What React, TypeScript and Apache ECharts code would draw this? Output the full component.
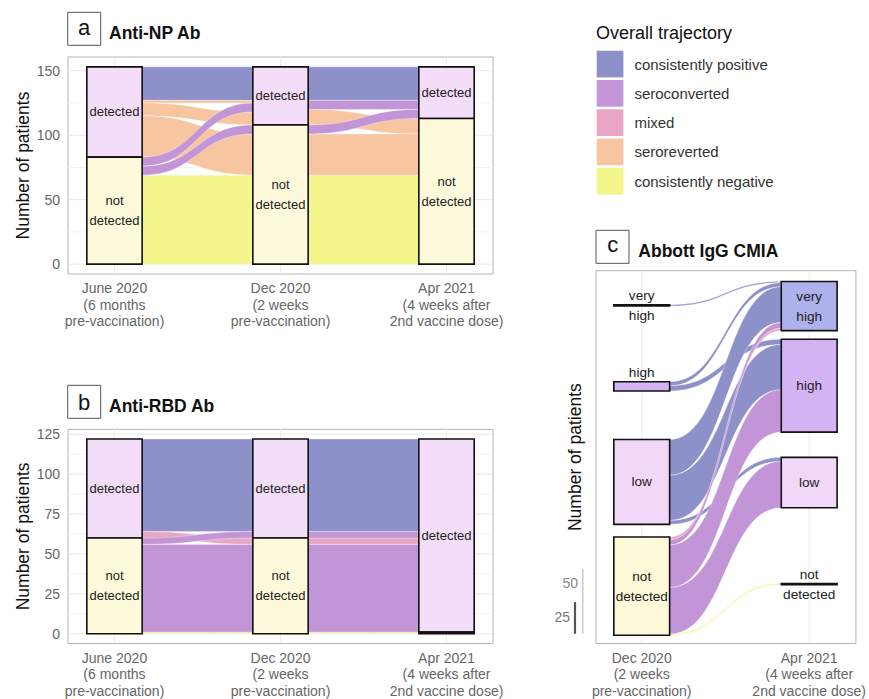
import React, { useEffect, useRef } from "react";
import * as echarts from "echarts";

const FONT = '"Liberation Sans", Arial, Helvetica, sans-serif';

// ---------- categories / trajectories ----------
const trajectories = [
  "consistently positive",
  "seroconverted",
  "mixed",
  "seroreverted",
  "consistently negative",
];
const trajectoryColors = ["#8e91c9", "#c295d7", "#e9a5c6", "#f7c6a1", "#f2f68b"];
const drawOrder = [0, 4, 3, 2, 1];

const threeTimes = [
  "June 2020\n(6 months\npre-vaccination)",
  "Dec 2020\n(2 weeks\npre-vaccination)",
  "Apr 2021\n(4 weeks after\n2nd vaccine dose)",
];
const twoTimes = [
  "Dec 2020\n(2 weeks\npre-vaccination)",
  "Apr 2021\n(4 weeks after\n2nd vaccine dose)",
];

// ---------- tick labels ----------
const npTicks = [0, 50, 100, 150];
const npMinorTicks = [25, 75, 125];
const rbdTicks = [0, 25, 50, 75, 100, 125];
const rbdMinorTicks = [12.5, 37.5, 62.5, 87.5, 112.5];

// ---------- panel a: Anti-NP Ab ----------
const detectionLabels = ["detected", "not\ndetected"];
// per time point: [detected, not detected]
const npCounts = [
  [70, 83],
  [45, 108],
  [40, 113],
];
// flows: [fromStratum, toStratum, patients, trajectory] in left-side order
const npFlowsJuneDec = [
  [0, 0, 26, 0],
  [0, 0, 2, 3],
  [0, 0, 10, 3],
  [0, 1, 32, 3],
  [1, 0, 7, 1],
  [1, 1, 7, 1],
  [1, 1, 69, 4],
];
const npOrderJuneDec = [0, 1, 4, 2, 5, 3, 6];
const npFlowsDecApr = [
  [0, 0, 26, 0],
  [0, 0, 7, 1],
  [0, 1, 12, 3],
  [1, 0, 7, 1],
  [1, 1, 32, 3],
  [1, 1, 69, 4],
];
const npOrderDecApr = [0, 1, 3, 2, 4, 5];

// ---------- panel b: Anti-RBD Ab ----------
const rbdCounts = [
  [62, 60],
  [62, 60],
  [121, 1],
];
const rbdFlowsJuneDec = [
  [0, 0, 58, 0],
  [0, 1, 4, 2],
  [1, 0, 4, 1],
  [1, 1, 55, 1],
  [1, 1, 1, 4],
];
const rbdOrderJuneDec = [0, 2, 1, 3, 4];
const rbdFlowsDecApr = [
  [0, 0, 58, 0],
  [0, 0, 4, 1],
  [1, 0, 4, 2],
  [1, 0, 55, 1],
  [1, 1, 1, 4],
];
const rbdOrderDecApr = [0, 1, 2, 3, 4];

// ---------- panel c: Abbott IgG CMIA ----------
const abbottLabels = ["very\nhigh", "high", "low", "not\ndetected"];
const abbottCounts = [
  [1, 7, 64, 74],
  [37, 70, 38, 1],
];
// stratum bottoms (patients) of the spaced-out layout
const abbottBottoms = [
  [248, 184, 83.5, 0],
  [229.5, 153, 96, 38],
];
const abbottFlows = [
  [0, 0, 1, 0],
  [1, 0, 3, 0],
  [1, 1, 4, 0],
  [2, 0, 27, 0],
  [2, 1, 34, 0],
  [2, 2, 3, 0],
  [3, 0, 2, 2],
  [3, 0, 4, 1],
  [3, 1, 32, 1],
  [3, 2, 35, 1],
  [3, 3, 1, 4],
];
const abbottOrder = [0, 1, 3, 7, 6, 2, 4, 8, 5, 9, 10];
const abbottScaleBars = [50, 25];

// ---------- styling ----------
const STRATUM_W = 1 / 3;
const detectionFills = ["#f3ddf9", "#fdfadc"];
const abbottFills = ["#aeb1ec", "#d3b3f4", "#f1d8f8", "#fdf9d9"];

type FlowItem = { value: number[]; traj: number };
type StratumItem = { value: number[]; label: string; fill: string; shift: number; size: number };

function stackBottoms(counts: number[]) {
  const b: number[] = [];
  let acc = 0;
  for (let i = counts.length - 1; i >= 0; i--) {
    b[i] = acc;
    acc += counts[i];
  }
  return b;
}

function layoutFlows(
  flows: number[][],
  rightOrder: number[],
  leftTops: number[],
  rightTops: number[],
  x0: number,
  x1: number
): FlowItem[] {
  const res = flows.map(() => [0, 0, 0, 0, 0, 0]);
  const lc = leftTops.slice();
  flows.forEach((f, i) => {
    const hi = lc[f[0]];
    const lo = hi - f[2];
    lc[f[0]] = lo;
    res[i][0] = x0 + STRATUM_W / 2;
    res[i][1] = x1 - STRATUM_W / 2;
    res[i][2] = lo;
    res[i][3] = hi;
  });
  const rc = rightTops.slice();
  rightOrder.forEach((i) => {
    const f = flows[i];
    const hi = rc[f[1]];
    const lo = hi - f[2];
    rc[f[1]] = lo;
    res[i][4] = lo;
    res[i][5] = hi;
  });
  return res.map((r, i) => ({ value: r, traj: flows[i][3] }));
}

function gridSeries(g: number, major: number[], minor: number[], vert: number[]) {
  const data = [
    ...major.map((v) => [v, 0]),
    ...minor.map((v) => [v, 1]),
    ...vert.map((v) => [v, 2]),
  ];
  return {
    type: "custom",
    xAxisIndex: g,
    yAxisIndex: g,
    z: 1,
    silent: true,
    data,
    renderItem: (params: any, api: any) => {
      const v = api.value(0);
      const kind = api.value(1);
      const cs = params.coordSys;
      if (kind === 2) {
        const p = api.coord([v, 0]);
        return {
          type: "line",
          shape: { x1: p[0], y1: cs.y, x2: p[0], y2: cs.y + cs.height },
          style: { stroke: "#ebebeb", lineWidth: 1 },
        };
      }
      const p = api.coord([1, v]);
      return {
        type: "line",
        shape: { x1: cs.x, y1: p[1], x2: cs.x + cs.width, y2: p[1] },
        style: { stroke: kind === 0 ? "#e8e8e8" : "#f4f4f4", lineWidth: 1 },
      };
    },
  };
}

function flowSeries(g: number, items: FlowItem[], traj: number) {
  const color = trajectoryColors[traj];
  return {
    type: "custom",
    name: trajectories[traj],
    xAxisIndex: g,
    yAxisIndex: g,
    z: 2,
    silent: true,
    itemStyle: { color },
    data: items.filter((d) => d.traj === traj).map((d) => d.value),
    renderItem: (_params: any, api: any) => {
      const lt = api.coord([api.value(0), api.value(3)]);
      const lb = api.coord([api.value(0), api.value(2)]);
      const rt = api.coord([api.value(1), api.value(5)]);
      const rb = api.coord([api.value(1), api.value(4)]);
      const xm = (lt[0] + rt[0]) / 2;
      const d =
        `M${lt[0]},${lt[1]} C${xm},${lt[1]} ${xm},${rt[1]} ${rt[0]},${rt[1]} ` +
        `L${rb[0]},${rb[1]} C${xm},${rb[1]} ${xm},${lb[1]} ${lb[0]},${lb[1]} Z`;
      return {
        type: "path",
        shape: { pathData: d },
        style: { fill: color, stroke: "rgba(255,255,255,0.55)", lineWidth: 0.6 },
      };
    },
  };
}

function strataSeries(g: number, items: StratumItem[]) {
  return {
    type: "custom",
    xAxisIndex: g,
    yAxisIndex: g,
    z: 3,
    silent: true,
    data: items.map((i) => i.value),
    renderItem: (params: any, api: any) => {
      const it = items[params.dataIndex];
      const x = api.value(0);
      const tl = api.coord([x - STRATUM_W / 2, api.value(2)]);
      const br = api.coord([x + STRATUM_W / 2, api.value(1)]);
      const cx = (tl[0] + br[0]) / 2;
      const cy = (tl[1] + br[1]) / 2 + it.shift;
      return {
        type: "group",
        children: [
          {
            type: "rect",
            shape: { x: tl[0], y: tl[1], width: br[0] - tl[0], height: br[1] - tl[1] },
            style: { fill: it.fill, stroke: "#111", lineWidth: 1.6 },
          },
          {
            type: "text",
            x: cx,
            y: cy,
            style: {
              text: it.label,
              fill: "#222",
              textFill: "#222",
              fontSize: it.size,
              fontFamily: FONT,
              align: "center",
              verticalAlign: "middle",
              textAlign: "center",
              textVerticalAlign: "middle",
              lineHeight: 20,
              textLineHeight: 20,
            },
          },
        ],
      };
    },
  };
}

function detectionStrata(counts: number[][], hidden: string[]) {
  const items: StratumItem[] = [];
  counts.forEach((c, t) => {
    const b = stackBottoms(c);
    c.forEach((n, s) => {
      const key = `${t}-${s}`;
      items.push({
        value: [t + 1, b[s], b[s] + n],
        label: hidden.includes(key) ? "" : detectionLabels[s],
        fill: detectionFills[s],
        shift: 0,
        size: 13,
      });
    });
  });
  return items;
}

function buildOption() {
  // panel a
  const npB = npCounts.map(stackBottoms);
  const npTops = npCounts.map((c, t) => c.map((n, s) => npB[t][s] + n));
  const npItems = [
    ...layoutFlows(npFlowsJuneDec, npOrderJuneDec, npTops[0], npTops[1], 1, 2),
    ...layoutFlows(npFlowsDecApr, npOrderDecApr, npTops[1], npTops[2], 2, 3),
  ];
  // panel b
  const rbB = rbdCounts.map(stackBottoms);
  const rbTops = rbdCounts.map((c, t) => c.map((n, s) => rbB[t][s] + n));
  const rbItems = [
    ...layoutFlows(rbdFlowsJuneDec, rbdOrderJuneDec, rbTops[0], rbTops[1], 1, 2),
    ...layoutFlows(rbdFlowsDecApr, rbdOrderDecApr, rbTops[1], rbTops[2], 2, 3),
  ];
  // panel c
  const abTops = abbottCounts.map((c, t) => c.map((n, s) => abbottBottoms[t][s] + n));
  const abItems = layoutFlows(abbottFlows, abbottOrder, abTops[0], abTops[1], 1, 2);
  const abStrata: StratumItem[] = [];
  abbottCounts.forEach((c, t) =>
    c.forEach((n, s) =>
      abStrata.push({
        value: [t + 1, abbottBottoms[t][s], abbottBottoms[t][s] + n],
        label: abbottLabels[s],
        fill: abbottFills[s],
        shift: t === 0 && s === 1 ? -14 : 0,
        size: 13.6,
      })
    )
  );

  const series: any[] = [
    gridSeries(0, npTicks, npMinorTicks, [1, 2, 3]),
    gridSeries(1, rbdTicks, rbdMinorTicks, [1, 2, 3]),
    gridSeries(2, [], [], [1, 2]),
  ];
  drawOrder.forEach((tr) => {
    series.push(flowSeries(0, npItems, tr));
    series.push(flowSeries(1, rbItems, tr));
    series.push(flowSeries(2, abItems, tr));
  });
  series.push(strataSeries(0, detectionStrata(npCounts, [])));
  series.push(strataSeries(1, detectionStrata(rbdCounts, ["2-1"])));
  series.push(strataSeries(2, abStrata));
  // scale bar of panel c
  series.push({
    type: "custom",
    xAxisIndex: 2,
    yAxisIndex: 2,
    z: 3,
    silent: true,
    clip: false,
    data: [[1, 0]],
    renderItem: (params: any, api: any) => {
      const cs = params.coordSys;
      const base = api.coord([1, 0]);
      const big = api.coord([1, abbottScaleBars[0]]);
      const small = api.coord([1, abbottScaleBars[1]]);
      const bigLab = api.coord([1, abbottScaleBars[0] * 0.78]);
      const smallLab = api.coord([1, abbottScaleBars[1] * 0.56]);
      const xa = cs.x - 13.3;
      const xb = cs.x - 21;
      const txt = (t: string, x: number, y: number, c: string) => ({
        type: "text",
        x,
        y,
        style: {
          text: t,
          fill: c,
          textFill: c,
          fontSize: 14,
          fontFamily: FONT,
          align: "right",
          verticalAlign: "middle",
          textAlign: "right",
          textVerticalAlign: "middle",
        },
      });
      return {
        type: "group",
        children: [
          {
            type: "line",
            shape: { x1: xa, y1: base[1] - 1.5, x2: xa, y2: big[1] },
            style: { stroke: "#c9c9c9", lineWidth: 1.5 },
          },
          {
            type: "line",
            shape: { x1: xb, y1: base[1] - 1.5, x2: xb, y2: small[1] },
            style: { stroke: "#555", lineWidth: 2.2 },
          },
          txt(String(abbottScaleBars[0]), cs.x - 18, bigLab[1], "#888"),
          txt(String(abbottScaleBars[1]), cs.x - 26, smallLab[1], "#777"),
        ],
      };
    },
  });

  const axisText = { fontSize: 14, color: "#666", fontFamily: FONT };
  const nameStyle = { fontSize: 17.5, color: "#111", fontFamily: FONT };

  const xAxisFor = (g: number, min: number, max: number, labels: string[]) => ({
    gridIndex: g,
    type: "value",
    min,
    max,
    axisLine: { show: false },
    axisTick: { show: false },
    splitLine: { show: false },
    axisLabel: {
      ...axisText,
      lineHeight: 16.5,
      margin: 6,
      customValues: labels.map((_, i) => i + 1),
      formatter: (v: number) => labels[Math.round(v) - 1] ?? "",
    },
  });

  const yAxisFor = (g: number, min: number, max: number, ticks: number[] | null, gap: number) => ({
    gridIndex: g,
    type: "value",
    min,
    max,
    name: "Number of patients",
    nameLocation: "middle",
    nameGap: gap,
    nameTextStyle: nameStyle,
    axisLine: { show: false },
    axisTick: { show: false },
    splitLine: { show: false },
    axisLabel: ticks
      ? { ...axisText, margin: 8, customValues: ticks }
      : { show: false },
  });

  const boxText = (t: string, x: number, y: number, size: number, weight: string, align = "left") => ({
    type: "text",
    x,
    y,
    style: {
      text: t,
      fill: "#111",
      textFill: "#111",
      fontSize: size,
      fontWeight: weight,
      fontFamily: FONT,
      align,
      verticalAlign: "middle",
      textAlign: align,
      textVerticalAlign: "middle",
    },
  });
  const letterBox = (x: number, y: number) => ({
    type: "rect",
    shape: { x, y, width: 33, height: 33 },
    style: { fill: "#fff", stroke: "#555", lineWidth: 1 },
  });

  return {
    animation: false,
    backgroundColor: "#fff",
    textStyle: { fontFamily: FONT },
    grid: [
      { left: 68, top: 57, width: 425, height: 217, show: true, borderColor: "#b3b3b3", borderWidth: 1, backgroundColor: "transparent" },
      { left: 68, top: 429.3, width: 425, height: 216, show: true, borderColor: "#b3b3b3", borderWidth: 1, backgroundColor: "transparent" },
      { left: 596, top: 270.7, width: 263, height: 374.3, show: true, borderColor: "#b3b3b3", borderWidth: 1, backgroundColor: "transparent" },
    ],
    xAxis: [
      xAxisFor(0, 0.72, 3.28, threeTimes),
      xAxisFor(1, 0.72, 3.28, threeTimes),
      xAxisFor(2, 0.727, 2.279, twoTimes),
    ],
    yAxis: [
      yAxisFor(0, -7.65, 160.65, npTicks, 36),
      yAxisFor(1, -6.1, 128.1, rbdTicks, 36),
      yAxisFor(2, -6.2, 274.6, null, 12),
    ],
    legend: {
      data: trajectories,
      orient: "vertical",
      left: 596.7,
      top: 50.7,
      padding: 0,
      itemWidth: 26.7,
      itemHeight: 26.7,
      itemGap: 2.6,
      icon: "rect",
      selectedMode: false,
      textStyle: { fontSize: 15, color: "#333", fontFamily: FONT, padding: [0, 0, 0, 6] },
    },
    graphic: [
      letterBox(67.7, 12.3),
      boxText("a", 84.2, 27.5, 22, "normal", "center"),
      boxText("Anti-NP Ab", 109, 33, 17.5, "bold"),
      letterBox(67.7, 385.3),
      boxText("b", 84.2, 402, 22, "normal", "center"),
      boxText("Anti-RBD Ab", 109, 405.5, 17.5, "bold"),
      letterBox(596, 230.3),
      boxText("c", 612.7, 244, 22, "normal", "center"),
      boxText("Abbott IgG CMIA", 638.3, 250.5, 17.5, "bold"),
      boxText("Overall trajectory", 596, 32.5, 18, "normal"),
    ],
    series,
  };
}

export default function App() {
  const ref = useRef<HTMLDivElement>(null);
  useEffect(() => {
    document.body.style.margin = "0";
    const chart = echarts.init(ref.current as HTMLDivElement, null, { renderer: "svg" });
    chart.setOption(buildOption() as any);
    return () => chart.dispose();
  }, []);
  return <div ref={ref} style={{ width: 869, height: 699 }} />;
}
